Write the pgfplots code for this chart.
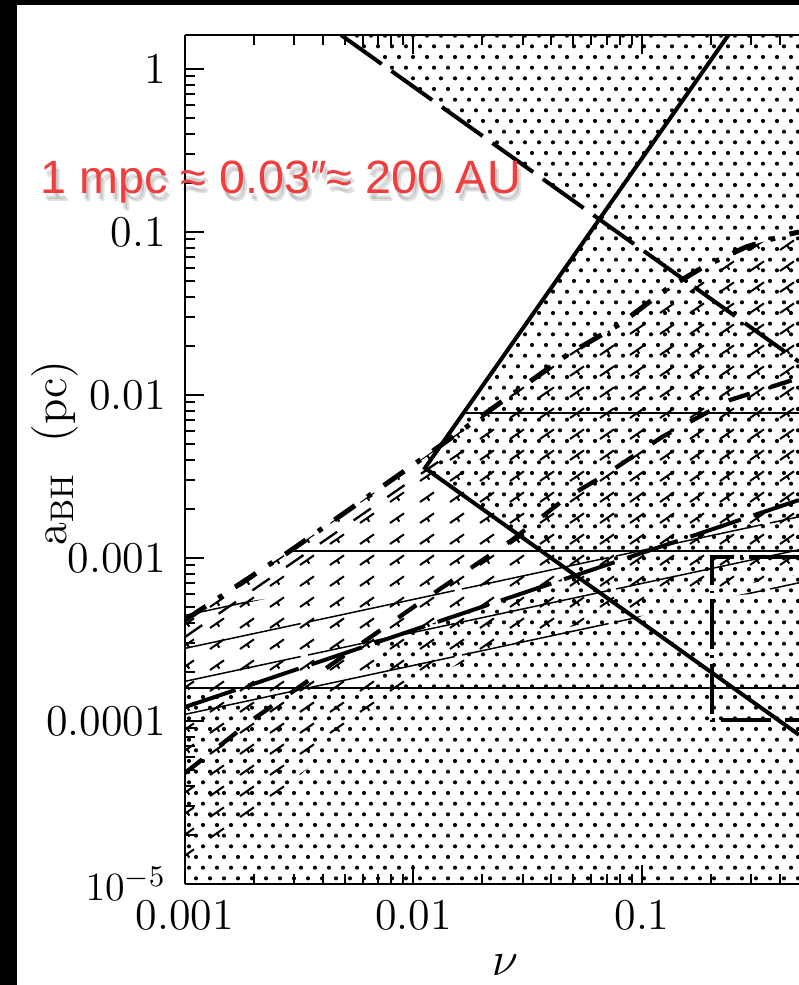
\documentclass[border=0pt]{standalone}
\usepackage{fontspec}
\usepackage{pgfplots}
\pgfplotsset{compat=1.18}
\usetikzlibrary{patterns}
\newfontfamily\redfont{Liberation Sans}
\definecolor{annot}{RGB}{240,62,62}

% staggered dots (excluded region)
\pgfdeclarepatternformonly{bigdots}{\pgfqpoint{-0.8pt}{-0.8pt}}{\pgfqpoint{3pt}{4.1pt}}{\pgfqpoint{4.2pt}{6.4pt}}{%
  \pgfpathcircle{\pgfqpoint{0pt}{0pt}}{0.62pt}
  \pgfpathcircle{\pgfqpoint{2.1pt}{3.2pt}}{0.62pt}
  \pgfusepath{fill}}
% dashed hatch with little ticks
\pgfdeclarepatternformonly{dashhatch}{\pgfqpoint{-0.5pt}{-0.5pt}}{\pgfqpoint{4.8pt}{3.5pt}}{\pgfqpoint{9pt}{6.3pt}}{%
  \pgfsetlinewidth{0.6pt}
  \pgfpathmoveto{\pgfqpoint{0pt}{0pt}}
  \pgfpathlineto{\pgfqpoint{4.2pt}{2.9pt}}
  \pgfpathmoveto{\pgfqpoint{2.1pt}{1.45pt}}
  \pgfpathlineto{\pgfqpoint{2.8pt}{0.4pt}}
  \pgfusepath{stroke}}
% thin shallow lines
\pgfdeclarepatternformonly{thinhatch}{\pgfqpoint{-0.5pt}{-0.5pt}}{\pgfqpoint{44.5pt}{10pt}}{\pgfqpoint{46.2pt}{9.9pt}}{%
  \pgfsetlinewidth{0.45pt}
  \pgfpathmoveto{\pgfqpoint{0pt}{0pt}}
  \pgfpathlineto{\pgfqpoint{44pt}{9.43pt}}
  \pgfusepath{stroke}}

\begin{document}
\begin{tikzpicture}
\useasboundingbox (-55.5pt,-30.3pt) rectangle (184.2pt,265.2pt);
\fill[white] (-55.5pt,-30.3pt) rectangle (184.2pt,265.2pt);
\fill[black] (-55.5pt,-30.3pt) rectangle (-50.4pt,265.2pt);
\fill[black] (-55.5pt,263.6pt) rectangle (184.2pt,265.2pt);
\begin{axis}[
    at={(0pt,0pt)}, anchor=south west,
    scale only axis, width=184.2pt, height=254.7pt,
    xmode=log, ymode=log,
    xmin=0.001, xmax=0.4865, ymin=1e-5, ymax=1.617,
    axis y line*=left, y axis line style={-},
    ytick pos=left,
    axis on top,
    axis line style={line width=0.75pt},
    every tick/.style={black, line width=0.6pt},
    tick align=inside,
    major tick length=5.7pt, minor tick length=3pt,
    xtick={0.001,0.01,0.1}, xticklabels={0.001,0.01,0.1},
    ytick={1e-5,1e-4,1e-3,0.01,0.1,1},
    yticklabels={$10^{-5}$,0.0001,0.001,0.01,0.1,1},
    minor xtick={0.002,0.003,0.004,0.005,0.006,0.007,0.008,0.009,
                 0.02,0.03,0.04,0.05,0.06,0.07,0.08,0.09,0.2,0.3,0.4},
    minor ytick={2e-5,3e-5,4e-5,5e-5,6e-5,7e-5,8e-5,9e-5,
                 2e-4,3e-4,4e-4,5e-4,6e-4,7e-4,8e-4,9e-4,
                 0.002,0.003,0.004,0.005,0.006,0.007,0.008,0.009,
                 0.02,0.03,0.04,0.05,0.06,0.07,0.08,0.09,
                 0.2,0.3,0.4,0.5,0.6,0.7,0.8,0.9},
    tick label style={font=\fontsize{13.2}{15}\selectfont},
    xticklabel style={yshift=-1.3pt},
    yticklabel style={xshift=-2.2pt},
    xlabel={$\nu$},
    ylabel={$\mathrm{a_{BH}}$\ \ (pc)},
    every axis x label/.style={at={(axis description cs:0.521,-0.095)}, anchor=center, font=\fontsize{15}{17}\selectfont},
    every axis y label/.style={at={(axis description cs:-0.2117,0.508)}, anchor=center, rotate=90, font=\fontsize{14}{16}\selectfont},
    no markers,
]
% excluded region (dots) and the allowed window in white
\addplot[draw=none, pattern=bigdots] coordinates {
    (0.001,1e-5) (0.4865,1e-5) (0.4865,1.617) (0.001,1.617)} -- cycle;
\addplot[draw=none, fill=white] coordinates {
    (0.001,1.617) (0.004817,1.617) (0.06482,0.12016) (0.011226,3.566e-3)
    (0.0506,7.9e-4) (0.006785,3.010e-4) (0.006785,1.594e-4) (0.001,1.594e-4)} -- cycle;
% dashed hatch band
\addplot[draw=none, pattern=dashhatch] coordinates {
    (0.001,4.165e-4) (0.002880,1.104e-3) (0.011005,4.106e-3) (0.04697,0.017596)
    (0.08013,0.027268) (0.13000,0.04534) (0.18870,0.06184) (0.28510,0.08091)
    (0.42237,0.09585) (0.4865,0.1)
    (0.4865,7.864e-4) (0.14661,5.929e-4) (0.043766,3.6164e-4) (0.019543,2.5395e-4)
    (0.008729,1.5497e-4) (0.0031862,4.663e-5) (0.001,1.2187e-5)} -- cycle;
% thin line band
\addplot[draw=none, pattern=thinhatch] coordinates {
    (0.001,4.797e-4) (0.004311,6.363e-4) (0.013062,9.06e-4) (0.043766,1.2895e-3)
    (0.14661,1.8357e-3) (0.4865,2.4349e-3)
    (0.4865,6.363e-4) (0.14661,5.525e-4) (0.043766,2.7265e-4) (0.013062,1.9978e-4)
    (0.004311,1.5497e-4) (0.001,1.0141e-4)} -- cycle;
% horizontal limits
\addplot[black, line width=0.6pt] coordinates {(0.001,1.594e-4) (0.4865,1.594e-4)};
\addplot[black, line width=0.6pt] coordinates {(0.00288,1.104e-3) (0.4865,1.104e-3)};
\addplot[black, line width=0.6pt] coordinates {(0.016556,7.756e-3) (0.4865,7.756e-3)};
% heavy lines
\addplot[black, line width=1.2pt, dash pattern=on 15pt off 3.6pt] coordinates {
    (0.004817,1.617) (0.4865,0.01601)};
\addplot[black, line width=1.2pt] coordinates {(0.2390,1.617) (0.011226,3.566e-3) (0.4865,8.23e-5)};
\addplot[black, line width=1.5pt, dash pattern=on 7.5pt off 4.5pt on 1.5pt off 4.5pt] coordinates {
    (0.001,4.165e-4) (0.002880,1.104e-3) (0.011005,4.106e-3) (0.04697,0.017596)
    (0.08013,0.027268) (0.13000,0.04534) (0.18870,0.06184) (0.28510,0.08091)
    (0.42237,0.09585) (0.4865,0.1)};
\addplot[black, line width=0.7pt, dash pattern=on 6.3pt off 6pt] coordinates {
    (0.001,3.275e-4) (0.013062,3.958e-3)};
\addplot[black, line width=1.3pt, dash pattern=on 6.6pt off 6.6pt] coordinates {
    (0.001,4.797e-5) (0.0020241,1.0433e-4) (0.010153,5.077e-4) (0.026986,1.2895e-3)
    (0.046494,2.3339e-3) (0.068881,3.2303e-3) (0.12233,5.527e-3) (0.24271,9.318e-3)
    (0.4865,0.012714)};
\addplot[black, line width=1.2pt, dash pattern=on 16pt off 4pt] coordinates {
    (0.001,1.2187e-4) (0.4865,2.2686e-3)};
\addplot[black, line width=1.0pt, dash pattern=on 15pt off 1.8pt on 0.8pt off 1.8pt] coordinates {
    (0.4865,1.014e-3) (0.2024,1.014e-3) (0.2024,1.014e-4) (0.4865,1.014e-4)};
\end{axis}
% annotation with a soft shadow
\foreach \dx/\dy in {1.2pt/-2.4pt, 0.6pt/-1.8pt}{
  \node[anchor=base west, inner sep=0pt, text=black, opacity=0.12,
        font=\redfont\fontsize{14}{16}\selectfont] at ([shift={(\dx,\dy)}]-43.5pt,207.3pt)
        {1 mpc ≈ 0.03″≈ 200 AU};
}
\node[anchor=base west, inner sep=0pt, text=annot, font=\redfont\fontsize{14}{16}\selectfont]
    at (-43.5pt,207.3pt) {1 mpc ≈ 0.03″≈ 200 AU};
\end{tikzpicture}
\end{document}
